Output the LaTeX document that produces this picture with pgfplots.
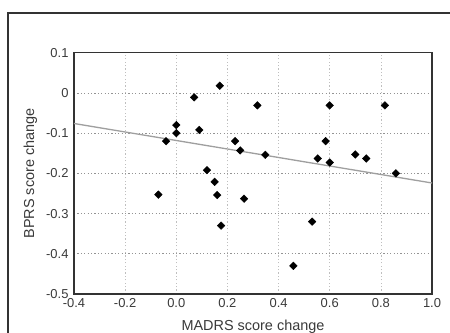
\documentclass[border=0pt]{standalone}
\usepackage{pgfplots}
\pgfplotsset{compat=1.18}
\usepackage{fontspec}
\setmainfont{Liberation Sans}
\definecolor{txt}{HTML}{3A3A3A}
\definecolor{frame}{HTML}{333333}
\begin{document}
\begin{tikzpicture}
\useasboundingbox (0bp,0bp) rectangle (450bp,333bp);
\fill[white] (0bp,0bp) rectangle (450bp,333bp);
\draw[line width=2.4bp, frame] (8bp,0bp) -- (8bp,320bp) -- (450bp,320bp);
\begin{axis}[
  at={(74bp,39bp)}, anchor=south west,
  scale only axis, width=358bp, height=241.3bp,
  xmin=-0.4, xmax=1.0, ymin=-0.5, ymax=0.1,
  xtick={-0.4,-0.2,0,0.2,0.4,0.6,0.8,1.0},
  xticklabels={-0.4,-0.2,0.0,0.2,0.4,0.6,0.8,1.0},
  ytick={-0.5,-0.4,-0.3,-0.2,-0.1,0,0.1},
  yticklabels={-0.5,-0.4,-0.3,-0.2,-0.1,0,0.1},
  major tick length=0pt,
  grid=major,
  x grid style={dash pattern=on 1.2bp off 2.2bp, gray!50, line width=0.7bp},
  y grid style={dash pattern=on 1.2bp off 2.2bp, gray!85, line width=0.8bp},
  axis line style={line width=1.6bp, frame},
  tick label style={font=\fontsize{13}{15}\selectfont, text=txt},
  xticklabel style={yshift=-1bp},
  yticklabel style={xshift=-2bp},
  label style={font=\fontsize{14.5}{17}\selectfont, text=txt},
  xlabel={MADRS score change},
  ylabel={BPRS score change},
  xlabel style={at={(axis description cs:0.5,0)}, anchor=base, yshift=-36bp},
  ylabel style={at={(axis description cs:0,0.5)}, anchor=base, yshift=40bp},
  clip=false,
]
\addplot[line width=1.3bp, gray!75] coordinates {(-0.4,-0.076) (1.0,-0.224)};
\addplot[only marks, mark=square*, mark size=2.7bp, mark options={rotate=45, fill=black, draw=black}] coordinates {
(-0.07,-0.253) (-0.04,-0.12) (0.0,-0.08) (0.0,-0.10) (0.07,-0.011)
(0.09,-0.092) (0.17,0.018) (0.12,-0.192) (0.15,-0.221) (0.16,-0.254)
(0.175,-0.33) (0.23,-0.12) (0.25,-0.143) (0.265,-0.263) (0.317,-0.031)
(0.348,-0.154) (0.458,-0.43) (0.531,-0.32) (0.553,-0.163) (0.584,-0.12)
(0.60,-0.031) (0.60,-0.173) (0.70,-0.153) (0.743,-0.163) (0.816,-0.031)
(0.859,-0.20)
};
\end{axis}
\end{tikzpicture}
\end{document}
